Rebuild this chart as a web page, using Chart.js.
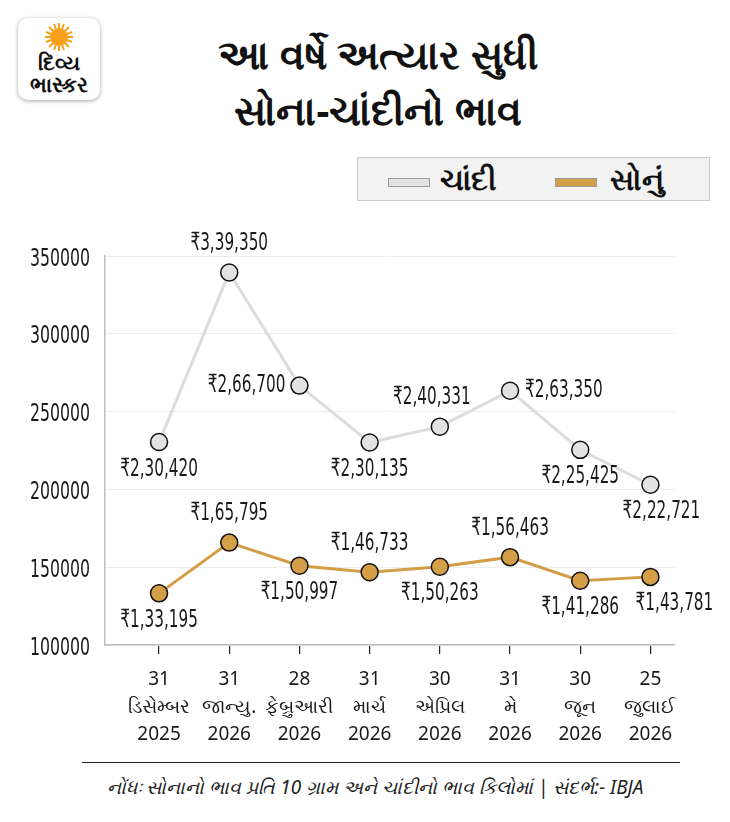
<!DOCTYPE html>
<html lang="gu">
<head>
    <meta charset="UTF-8">
    <title>સોના-ચાંદીનો ભાવ</title>
    <script src="https://cdn.jsdelivr.net/npm/chart.js"></script>
    <style>
        body { margin: 0; background: #fff; font-family: "Noto Sans", "DejaVu Sans", sans-serif; color: #111; }
        .page { position: relative; width: 730px; height: 822px; overflow: hidden; }
        .logo { position: absolute; left: 18px; top: 18px; width: 82px; height: 82px; border-radius: 10px;
                background: #fff; box-shadow: 0 1px 4px rgba(0,0,0,0.35); text-align: center; }
        .logo svg { position: absolute; left: 26px; top: 4px; }
        .logo .name { position: absolute; left: 0; right: 0; top: 33px; font-weight: bold; font-size: 21px; line-height: 22px; }
        .title { position: absolute; left: 150px; width: 456px; top: 26px; text-align: center;
                 font-weight: bold; font-size: 40px; line-height: 56px; }
        .legend { position: absolute; left: 357px; top: 157px; width: 351px; height: 42px;
                  background: #f1f2f1; border: 1px solid #c9c9c9; }
        .legend .sw { position: absolute; top: 20px; width: 40px; height: 7px; border: 1px solid #9a9a9a; }
        .legend .lb { position: absolute; top: 0; font-size: 30px; line-height: 42px; font-weight: bold; }
        #wrap { position: absolute; left: 0; top: 200px; width: 730px; height: 560px; }
        .rule { position: absolute; left: 82px; width: 598px; top: 762px; border-top: 1.5px solid #222; }
        .note { position: absolute; left: 0; width: 750px; top: 774px; text-align: center; font-style: italic; font-size: 19px; color: #222; }
    </style>
</head>
<body>
<div class="page">
    <div class="logo">
        <svg width="30" height="30" viewBox="-15 -15 30 30">
            <g stroke="#f7a11a" stroke-width="2">
                <line x1="0" y1="-14" x2="0" y2="14"/><line x1="-14" y1="0" x2="14" y2="0"/>
                <line x1="-10" y1="-10" x2="10" y2="10"/><line x1="-10" y1="10" x2="10" y2="-10"/>
                <line x1="-5" y1="-13" x2="5" y2="13"/><line x1="5" y1="-13" x2="-5" y2="13"/>
                <line x1="-13" y1="-5" x2="13" y2="5"/><line x1="-13" y1="5" x2="13" y2="-5"/>
            </g>
            <circle r="9" fill="#f7a11a"/>
        </svg>
        <div class="name">દિવ્ય<br>ભાસ્કર</div>
    </div>
    <div class="title">આ વર્ષે અત્યાર સુધી<br>સોના-ચાંદીનો ભાવ</div>

    <div class="legend">
        <div class="sw" style="left:30px; background:#e2e2e2;"></div>
        <div class="lb" style="left:82px;">ચાંદી</div>
        <div class="sw" style="left:197px; background:#d59f48;"></div>
        <div class="lb" style="left:252px;">સોનું</div>
    </div>

    <div id="wrap"><canvas id="priceChart" width="730" height="560"></canvas></div>

    <div class="rule"></div>
    <div class="note">નોંધઃ સોનાનો ભાવ પ્રતિ 10 ગ્રામ અને ચાંદીનો ભાવ કિલોમાં | સંદર્ભ:- IBJA</div>
</div>

<script>
    // data
    const dates = [
        ['31', 'ડિસેમ્બર', '2025'],
        ['31', 'જાન્યુ.', '2026'],
        ['28', 'ફેબ્રુઆરી', '2026'],
        ['31', 'માર્ચ', '2026'],
        ['30', 'એપ્રિલ', '2026'],
        ['31', 'મે', '2026'],
        ['30', 'જૂન', '2026'],
        ['25', 'જુલાઈ', '2026']
    ];
    // the last silver point is drawn lower than its printed label (~2,03,000 on the axis)
    const silver = [230420, 339350, 266700, 230135, 240331, 263350, 225425, 203000];
    const gold = [133195, 165795, 150997, 146733, 150263, 156463, 141286, 143781];
    // printed value labels, as they appear
    const silverText = ['₹2,30,420', '₹3,39,350', '₹2,66,700', '₹2,30,135', '₹2,40,331', '₹2,63,350', '₹2,25,425', '₹2,22,721'];
    const goldText = ['₹1,33,195', '₹1,65,795', '₹1,50,997', '₹1,46,733', '₹1,50,263', '₹1,56,463', '₹1,41,286', '₹1,43,781'];
    const yTicks = [100000, 150000, 200000, 250000, 300000, 350000];

    // where each value label sits relative to its point
    const silverLabelPos = [['below', 0], ['above', 0], ['left', 0], ['below', 0], ['above', -8], ['right', 0], ['below', 0], ['below', 11]];
    const goldLabelPos = [['below', 0], ['above', 0], ['below', 0], ['above', 0], ['below', 0], ['above', 0], ['below', 0], ['below', 24]];

    const numFont = '"DejaVu Sans", sans-serif';

    // the original numbers use a tall condensed face, so squeeze horizontally
    function drawSqueezed(ctx, text, x, y, align, squeeze) {
        ctx.save();
        ctx.translate(x, y);
        ctx.scale(squeeze, 1);
        ctx.textAlign = align;
        ctx.fillText(text, 0, 0);
        ctx.restore();
    }

    const valueLabels = {
        id: 'valueLabels',
        afterDatasetsDraw(chart) {
            const ctx = chart.ctx;
            ctx.save();
            ctx.font = '25px ' + numFont;
            ctx.fillStyle = '#1a1a1a';
            ctx.textBaseline = 'middle';
            chart.data.datasets.forEach((ds, di) => {
                const pos = di === 0 ? silverLabelPos : goldLabelPos;
                const texts = di === 0 ? silverText : goldText;
                chart.getDatasetMeta(di).data.forEach((pt, i) => {
                    const [where, dx] = pos[i];
                    let x = pt.x + dx, y = pt.y, align = 'center';
                    if (where === 'above') y -= 29;
                    else if (where === 'below') y += 27;
                    else if (where === 'left') { align = 'right'; x -= 14; }
                    else { align = 'left'; x += 15; }
                    drawSqueezed(ctx, texts[i], x, y, align, 0.61);
                });
            });
            // y axis numbers
            const ys = chart.scales.y;
            ys.ticks.forEach(t => {
                drawSqueezed(ctx, String(t.value), ys.right - 15, ys.getPixelForValue(t.value) + 3, 'right', 0.63);
            });
            ctx.restore();
        }
    };

    const toPoints = arr => arr.map((v, i) => ({ x: i, y: v }));

    new Chart(document.getElementById('priceChart'), {
        type: 'line',
        data: {
            datasets: [
                {
                    label: 'ચાંદી',
                    data: toPoints(silver),
                    borderColor: '#dcdcdc',
                    borderWidth: 3,
                    pointBackgroundColor: '#e2e2e2',
                    pointBorderColor: '#111',
                    pointBorderWidth: 1.5,
                    pointRadius: 8.5,
                    tension: 0
                },
                {
                    label: 'સોનું',
                    data: toPoints(gold),
                    borderColor: '#d39d47',
                    borderWidth: 3,
                    pointBackgroundColor: '#d59f48',
                    pointBorderColor: '#111',
                    pointBorderWidth: 1.5,
                    pointRadius: 8.5,
                    tension: 0
                }
            ]
        },
        options: {
            responsive: false,
            animation: false,
            layout: { padding: { top: 56, right: 55, left: 0, bottom: 0 } },
            plugins: { legend: { display: false }, tooltip: { enabled: false } },
            scales: {
                x: {
                    type: 'linear',
                    min: -0.77,
                    max: 7.35,
                    afterBuildTicks: s => { s.ticks = dates.map((_, i) => ({ value: i })); },
                    afterFit: s => { s.height = 115; },
                    grid: { drawOnChartArea: false, drawTicks: true, tickLength: 9, color: '#222', lineWidth: 1.2 },
                    border: { color: '#bdbdbd', width: 1.5 },
                    ticks: {
                        callback: v => dates[v],
                        font: { family: '"Noto Sans", "DejaVu Sans", sans-serif', size: 19, lineHeight: 1.45 },
                        color: '#1a1a1a',
                        padding: 12,
                        maxRotation: 0,
                        autoSkip: false
                    }
                },
                y: {
                    min: yTicks[0],
                    max: yTicks[yTicks.length - 1],
                    afterBuildTicks: s => { s.ticks = yTicks.map(v => ({ value: v })); },
                    afterFit: s => { s.width = 105; },
                    grid: { color: '#ededed', lineWidth: 1, drawTicks: false },
                    border: { color: '#bdbdbd', width: 1.5 },
                    ticks: { display: false }
                }
            }
        },
        plugins: [valueLabels]
    });
</script>
</body>
</html>
